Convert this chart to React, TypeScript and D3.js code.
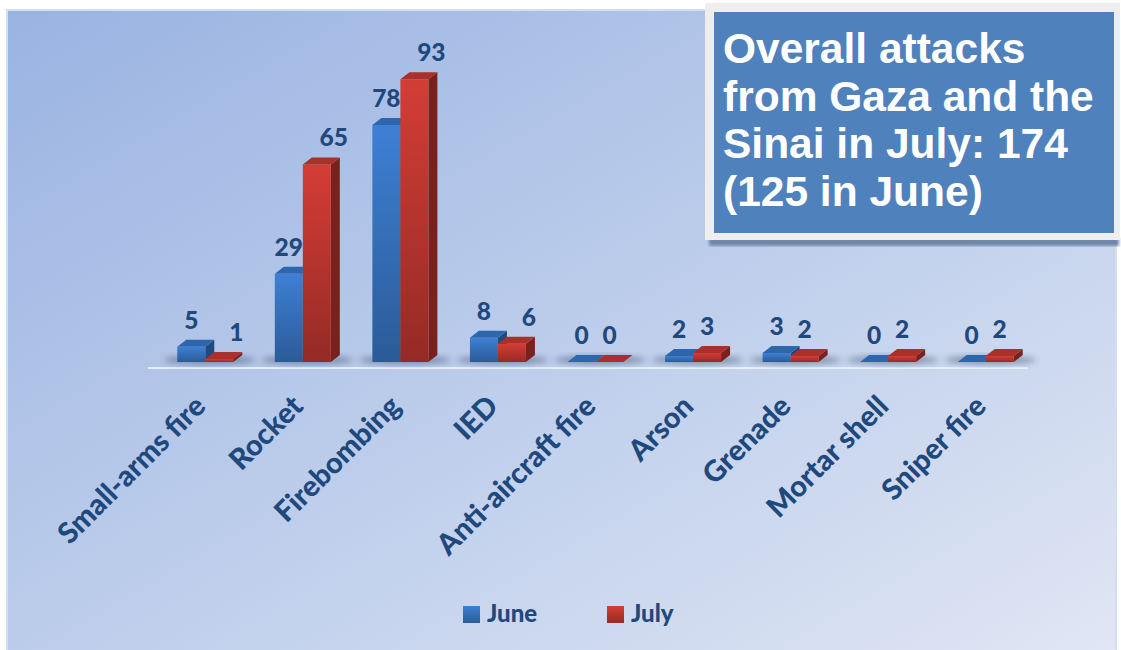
import { useEffect, useRef } from "react";
import * as d3 from "d3";

// chart data
const categories = [
  "Small-arms fire",
  "Rocket",
  "Firebombing",
  "IED",
  "Anti-aircraft fire",
  "Arson",
  "Grenade",
  "Mortar shell",
  "Sniper fire",
];
const seriesNames = ["June", "July"];
const juneValues = [5, 29, 78, 8, 0, 2, 3, 0, 0];
const julyValues = [1, 65, 93, 6, 0, 3, 2, 2, 2];
const titleLines = [
  "Overall attacks",
  "from Gaza and the",
  "Sinai in July: 174",
  "(125 in June)",
];

const W = 1121;
const H = 650;
const navy = "#1f497d";
const labelFont = "Lato, 'Open Sans', sans-serif";
// 3D depth of the bars
const dx = 9;
const dy = 7;

const colours = {
  June: { top: "#3d80d3", bottom: "#2b5b98", roof: "#2e66ad", side: "#22497c" },
  July: { top: "#d43d36", bottom: "#952a25", roof: "#a9302b", side: "#7a201d" },
};

const App = () => {
  const ref = useRef<SVGSVGElement>(null);

  useEffect(() => {
    const svg = d3.select(ref.current);
    svg.selectAll("*").remove();

    const defs = svg.append("defs");
    const bg = defs.append("linearGradient").attr("id", "bg")
      .attr("x1", 0).attr("y1", 0).attr("x2", 1).attr("y2", 1);
    bg.append("stop").attr("offset", 0).attr("stop-color", "#9ab3e2");
    bg.append("stop").attr("offset", 0.5).attr("stop-color", "#bccdeb");
    bg.append("stop").attr("offset", 1).attr("stop-color", "#e0e6f4");

    seriesNames.forEach((s) => {
      const g = defs.append("linearGradient").attr("id", `front-${s}`)
        .attr("x1", 0).attr("y1", 0).attr("x2", 0).attr("y2", 1);
      g.append("stop").attr("offset", 0).attr("stop-color", colours[s].top);
      g.append("stop").attr("offset", 1).attr("stop-color", colours[s].bottom);
    });

    defs.append("filter").attr("id", "blur")
      .attr("x", "-50%").attr("y", "-50%").attr("width", "200%").attr("height", "200%")
      .append("feGaussianBlur").attr("stdDeviation", 3);
    defs.append("filter").attr("id", "blur2")
      .append("feGaussianBlur").attr("stdDeviation", 1.5);

    // background panel
    svg.append("rect")
      .attr("x", 7).attr("y", 10).attr("width", 1109).attr("height", 645)
      .attr("fill", "url(#bg)")
      .attr("stroke", "#d2def2").attr("stroke-width", 2);

    // scales
    const x = d3.scaleBand().domain(categories).range([148, 1026]);
    const bw = x.bandwidth();
    const pairStart = (c: string) => (x(c) as number) + bw * 0.3;
    const sub = d3.scaleBand().domain(seriesNames).range([0, bw * 0.574]);
    const y = d3.scaleLinear().domain([0, 100]).range([362, 58]);

    const rows = categories.map((c, i) => ({
      cat: c,
      June: juneValues[i],
      July: julyValues[i],
    }));

    // floor line
    svg.append("line")
      .attr("x1", 148).attr("x2", 1028)
      .attr("y1", y(0) + 6).attr("y2", y(0) + 6)
      .attr("stroke", "#e6eef9").attr("stroke-width", 2);

    // shadows under the bars
    svg.append("g").selectAll("ellipse").data(rows).join("ellipse")
      .attr("cx", (d) => pairStart(d.cat) + sub.range()[1] / 2 + dx / 2)
      .attr("cy", y(0) - 2)
      .attr("rx", sub.range()[1] / 2 + 18)
      .attr("ry", 4)
      .attr("fill", "#26384f").attr("opacity", 0.45)
      .attr("filter", "url(#blur)");

    // bars
    const bars = svg.append("g");
    rows.forEach((d) => {
      seriesNames.forEach((s) => {
        const x0 = pairStart(d.cat) + (sub(s) as number);
        const w = sub.bandwidth();
        const yt = y(d[s]);
        const yb = y(0);
        const c = colours[s];
        bars.append("path")
          .attr("d", `M${x0 + w},${yt}L${x0 + w + dx},${yt - dy}L${x0 + w + dx},${yb - dy}L${x0 + w},${yb}Z`)
          .attr("fill", c.side);
        if (yb - yt > 0) {
          bars.append("rect")
            .attr("x", x0).attr("y", yt).attr("width", w).attr("height", yb - yt)
            .attr("fill", `url(#front-${s})`);
        }
        bars.append("path")
          .attr("d", `M${x0},${yt}L${x0 + dx},${yt - dy}L${x0 + w + dx},${yt - dy}L${x0 + w},${yt}Z`)
          .attr("fill", c.roof);
      });
    });

    // value labels
    const labels = svg.append("g")
      .attr("font-family", labelFont)
      .attr("font-weight", 900)
      .attr("font-size", 24.5)
      .attr("fill", navy)
      .attr("text-anchor", "middle");
    rows.forEach((d) => {
      const shift = Math.max(d.June, d.July) >= 5 ? 17 : 0;
      seriesNames.forEach((s) => {
        const cx = pairStart(d.cat) + (sub(s) as number) + sub.bandwidth() / 2 + (s === "July" ? shift : 0);
        labels.append("text")
          .attr("x", cx)
          .attr("y", y(d[s]) - dy - 11)
          .text(d[s]);
      });
    });

    // category labels
    svg.append("g")
      .attr("font-family", labelFont)
      .attr("font-weight", 900)
      .attr("font-size", 29)
      .attr("fill", navy)
      .attr("text-anchor", "end")
      .selectAll("text").data(categories).join("text")
      .attr("transform", (c) => `translate(${pairStart(c) + sub.range()[1] / 2 + 2},${y(0) + 46}) rotate(-45)`)
      .text((c) => c);

    // legend
    const legend = svg.append("g")
      .attr("font-family", labelFont)
      .attr("font-weight", 900)
      .attr("font-size", 24)
      .attr("fill", navy);
    const lx = d3.scalePoint().domain(seriesNames).range([463, 607]);
    seriesNames.forEach((s) => {
      legend.append("rect")
        .attr("x", lx(s) as number).attr("y", 606).attr("width", 17).attr("height", 17)
        .attr("fill", `url(#front-${s})`);
      legend.append("text")
        .attr("x", (lx(s) as number) + 24).attr("y", 622)
        .text(s);
    });

    // title box
    svg.append("rect")
      .attr("x", 709).attr("y", 238).attr("width", 410).attr("height", 8)
      .attr("fill", "#6f86a8").attr("filter", "url(#blur2)");
    svg.append("rect")
      .attr("x", 705).attr("y", 3).attr("width", 415).attr("height", 237)
      .attr("fill", "#eeeeee");
    svg.append("rect")
      .attr("x", 714).attr("y", 12).attr("width", 400).attr("height", 221)
      .attr("fill", "#4f81bd");
    svg.append("g")
      .attr("font-family", "'Liberation Sans', Arial, sans-serif")
      .attr("font-weight", "bold")
      .attr("font-size", 42.5)
      .attr("fill", "#ffffff")
      .selectAll("text").data(titleLines).join("text")
      .attr("x", 723)
      .attr("y", (_, i) => 63 + i * 47.5)
      .text((t) => t);
  }, []);

  return (
    <svg
      ref={ref}
      width={W}
      height={H}
      viewBox={`0 0 ${W} ${H}`}
      style={{ position: "absolute", left: 0, top: 0, background: "#ffffff" }}
    />
  );
};

export default App;
